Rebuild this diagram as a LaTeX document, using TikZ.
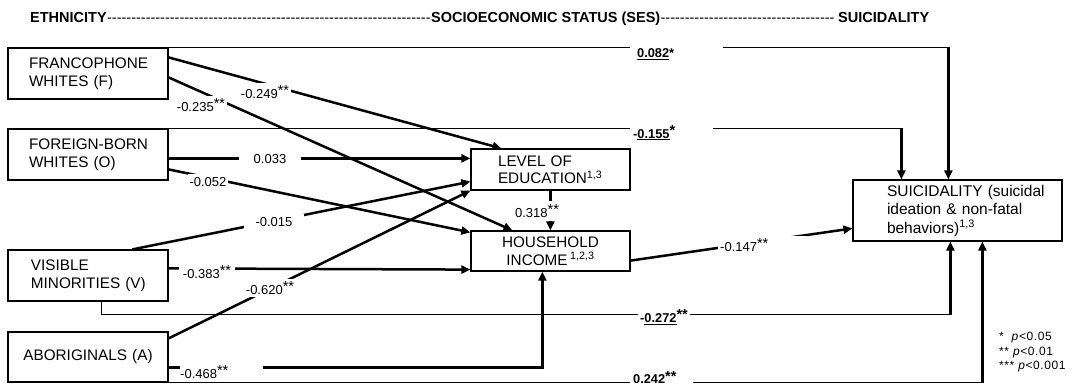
\documentclass[tikz,border=0pt]{standalone}
\usepackage{fontspec}
\setmainfont{Liberation Sans}
\usetikzlibrary{arrows.meta,calc}
\newcommand\bxfont{\fontsize{15.3}{17.5}\selectfont}
\newcommand\sxfont{\fontsize{15.5}{18.5}\selectfont}
\newcommand\lbfont{\fontsize{13}{15}\selectfont}
\newcommand\blbfont{\fontsize{12.8}{15}\selectfont\bfseries}
\newcommand\ttlfont{\fontsize{14.5}{17}\selectfont\bfseries}
\newcommand\lgfont{\fontsize{12}{14.5}\selectfont\addfontfeatures{LetterSpace=5}}
\newcommand\sstar[1]{\raisebox{2.5pt}{\fontsize{14.5}{14.5}\selectfont#1}}
\begin{document}
\begin{tikzpicture}[x=1pt,y=-1pt,
  bx/.style={draw, line width=1.2pt, inner xsep=0pt, inner ysep=0pt, font=\bxfont},
  lbox/.style args={#1/#2/#3}{bx, text width=#1, minimum height=#2, align=left, execute at begin node={\leftskip=#3}},
  cbox/.style args={#1/#2}{bx, text width=#1, minimum height=#2, align=center},
  arr/.style={line width=2.5pt, -{Triangle[length=9pt,width=8pt]}},
  thn/.style={line width=1.3pt},
  lab/.style={fill=white, font=\lbfont, inner xsep=2pt, inner ysep=3pt},
  blab/.style={lab, font=\blbfont, inner ysep=4pt},
  ttl/.style={anchor=base west, inner sep=0pt, font=\ttlfont},
  dsh/.style={anchor=base west, inner sep=0pt, font=\fontsize{14.5}{17}\selectfont}
]
\useasboundingbox (0,0) rectangle (1074,385);

% title
\node[ttl] (t1) at (30,22.5) {ETHNICITY};
\node[ttl] (t2) at (431,22.5) {SOCIOECONOMIC STATUS (SES)};
\node[ttl] (t3) at (838,22.5) {SUICIDALITY};
\path let \p1=($(t2.base west)-(t1.base east)$) in
  node[dsh] (d1) at (t1.base east) {\hbox to \x1{\leaders\hbox{-}\hfill}};
\path let \p1=($(t3.base west)-(t2.base east)$) in
  node[dsh] (d2) at (t2.base east) {\hbox to \x1{\leaders\hbox{-}\hfill}};

% boxes
\node[lbox=160pt/51pt/21pt] (F) at (88,73.5) {FRANCOPHONE\\WHITES (F)};
\node[lbox=160pt/51pt/21pt] (O) at (88,154.5) {FOREIGN-BORN\\WHITES (O)};
\node[lbox=160pt/51pt/23pt] (V) at (88,275.5) {VISIBLE\\MINORITIES (V)};
\node[cbox=160pt/50pt] (A) at (88,357) {ABORIGINALS (A)};
\node[lbox=159pt/41pt/27pt] (E) at (550.5,169.5) {LEVEL OF\\EDUCATION\textsuperscript{1,3}};
\node[cbox=159pt/40pt] (H) at (550.5,251) {HOUSEHOLD\\INCOME\,\textsuperscript{1,2,3}};
\node[lbox=209pt/61pt/34pt, font=\sxfont] (S) at (957.5,210.5) {SUICIDALITY (suicidal\\ideation \& non-fatal\\behaviors)\textsuperscript{1,3}};

% mediated paths
\draw[arr] ($(F.north east)+(0,10)$) -- ($(E.north west)+(31,0)$);
\draw[arr] ($(F.north east)+(0,30)$) -- ($(H.north west)+(42,0)$);
\draw[arr] ($(O.north east)+(0,30)$) -- ($(E.north west)+(0,10)$);
\draw[arr] ($(O.north east)+(0,41)$) -- ($(H.north west)+(0,2)$);
\draw[arr] ($(V.north west)+(125,0)$) -- ($(E.south west)+(0,-9)$);
\draw[arr] ($(V.north east)+(0,19)$) -- ($(H.south west)+(0,-2)$);
\draw[arr] ($(A.north east)+(0,7)$) -- (E.south west);
\draw[arr] ($(A.north east)+(0,36)$) -| ($(H.south west)+(72,0)$);
\draw[arr] ($(E.south west)+(80,0)$) -- ($(H.north west)+(80,0)$);
\draw[arr] ($(H.south east)+(0,-11)$) -- ($(S.north west)+(0,49)$);

% direct paths
\coordinate (s1) at ($(S.north west)+(96,0)$);
\coordinate (s2) at ($(S.north west)+(49,0)$);
\coordinate (s3) at ($(S.south west)+(98,0)$);
\coordinate (s4) at ($(S.south west)+(130,0)$);
\coordinate (v1) at ($(V.south west)+(94,13)$);
\draw[thn] (F.north east) -| (s1);
\draw[arr] (s1 |- F.north east) -- (s1);
\draw[thn] (O.north east) -| (s2);
\draw[arr] (s2 |- O.north east) -- (s2);
\draw[thn] ($(V.south west)+(94,0)$) -- (v1) -| (s3);
\draw[arr] (s3 |- v1) -- (s3);
\draw[thn, line width=1.6pt] (A.south east) -| (s4);
\draw[arr] (s4 |- A.south east) -- (s4);

% labels
\node[lab] (l1) at (265,92) {-0.249\sstar{**}};
\node[lab] (l2) at (201,105) {-0.235\sstar{**}};
\node[lab, inner xsep=15pt] (l3) at (270,159) {0.033};
\node[lab] (l4) at (208,182) {-0.052};
\node[lab, inner xsep=12pt] (l5) at (274,222) {-0.015};
\node[lab, inner xsep=4pt] (l6) at (207,272) {-0.383\sstar{**}};
\node[lab] (l7) at (270,288) {-0.620\sstar{**}};
\node[lab, anchor=west, inner xsep=0pt, inner ysep=1.5pt] (l8) at (180,372) {\makebox[83pt][l]{-0.468\sstar{**}}};
\node[lab, inner ysep=3.5pt] (l14) at (537,211) {0.318\sstar{**}};
\node[lab, anchor=west, inner xsep=0pt] (l13) at (718,245) {\makebox[89pt][l]{\hspace{2pt}-0.147\sstar{**}}};
\node[blab, anchor=west, inner xsep=0pt] (l9) at (630,54) {\makebox[93pt][l]{\hspace{7pt}\underline{0.082}*}};
\node[blab, anchor=west, inner xsep=0pt] (l10) at (630,133) {\makebox[83pt][l]{\hspace{3pt}-\underline{0.155}\sstar{*}}};
\node[blab] (l11) at (664,317) {-\underline{0.272}\sstar{**}};
\node[blab, anchor=west, inner xsep=0pt, inner ysep=1pt] (l12) at (630,377.5) {\makebox[63pt][l]{\hspace{3pt}0.242\sstar{**}}};

% legend
\node[anchor=north west, align=left, inner sep=0pt, font=\lgfont] (lg) at (999,332) {*\ \ \textit{p}<0.05\\** \textit{p}<0.01\\*** \textit{p}<0.001};
\end{tikzpicture}
\end{document}
